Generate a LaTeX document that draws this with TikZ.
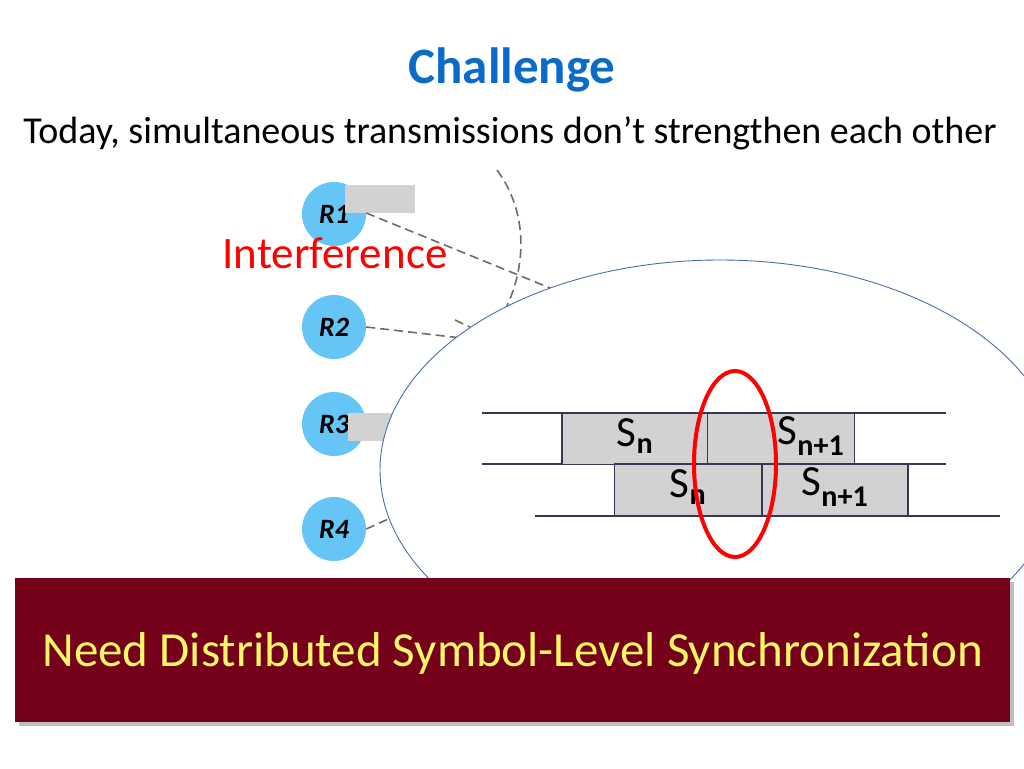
\documentclass[tikz,border=0pt]{standalone}
\usepackage{fontspec}
\setmainfont{Carlito}
\begin{document}
\begin{tikzpicture}[x=1pt,y=-1pt,
  rnode/.style={circle,fill=skyc,minimum size=64pt,inner sep=0pt,font=\fontsize{28}{28}\selectfont\bfseries\itshape},
  dashln/.style={draw=gray!85!black,dash pattern=on 9pt off 5pt,line width=1.6pt},
  sym/.style={draw=lineblk,fill=gray!35,line width=1.8pt},
  tline/.style={draw=lineblk,line width=1.8pt},
  slab/.style={font=\fontsize{43}{43}\selectfont}]
\definecolor{skyc}{HTML}{66C5F7}
\definecolor{boxred}{HTML}{750019}
\definecolor{titleblue}{HTML}{0A6BC9}
\definecolor{lineblk}{HTML}{3A3550}
\definecolor{ellc}{HTML}{4A6FA8}
\useasboundingbox (0,0) rectangle (1024,768);
\node[font=\fontsize{51}{51}\selectfont\bfseries,text=titleblue] (title) at (512,70) {Challenge};
\node[font=\fontsize{38}{38}\selectfont] (sub) at (510,133) {Today, simultaneous transmissions don’t strengthen each other};
\node[rnode] (r1) at (334,214) {R1};
\node[rnode] (r2) at (334,327) {R2};
\node[rnode] (r3) at (334,424) {R3};
\node[rnode] (r4) at (334,529) {R4};
\fill[gray!35] (345,185) rectangle (415,213);
\fill[gray!35] (348,413) rectangle (400,441);
\coordinate (e1) at (560,292);
\coordinate (e2) at (470,339);
\coordinate (e4) at (395,516);
\draw[dashln] (r1.east) ++(0,-1) -- (e1);
\draw[dashln] (r2.east) -- (e2);
\draw[dashln] (455,320) -- (470,327);
\draw[dashln] (r4.east) -- (e4);
\draw[dashln] (497,170) .. controls (530,215) and (525,270) .. (505,310);
\node[font=\fontsize{45}{45}\selectfont,text=red] (intf) at (335,253) {Interference};
\begin{scope}
\clip (0,0) rectangle (1024,768);
\draw[fill=white,draw=ellc,line width=0.9pt] (720,470) ellipse [x radius=340, y radius=210];
\end{scope}
\draw[tline] (482,413) -- (946,413);
\draw[tline] (482,464) -- (946,464);
\draw[tline] (535,516) -- (1000,516);
\node[sym,minimum width=146pt,minimum height=51pt,inner sep=0pt] (s1) at (635,439) {};
\node[sym,minimum width=147pt,minimum height=51pt,inner sep=0pt] (s2) at (781,439) {};
\node[sym,minimum width=147pt,minimum height=52pt,inner sep=0pt] (s3) at (688,490) {};
\node[sym,minimum width=146pt,minimum height=52pt,inner sep=0pt] (s4) at (835,490) {};
\node[slab] at ([xshift=0pt,yshift=3pt]s1.center) {S\textsubscript{\bfseries n}};
\node[slab] at ([xshift=30pt,yshift=3pt]s2.center) {S\textsubscript{\bfseries n+1}};
\node[slab] at ([yshift=3pt]s3.center) {S\textsubscript{\bfseries n}};
\node[slab] at ([yshift=3pt]s4.center) {S\textsubscript{\bfseries n+1}};
\draw[red,line width=4pt] (735,464) ellipse [x radius=41, y radius=93];
\fill[black!25] (19,582) rectangle (1014,726);
\node[fill=boxred,minimum width=995pt,minimum height=144pt,inner sep=0pt,anchor=north west] (need) at (15,578) {};
\node[font=\fontsize{49}{49}\selectfont,text=yellow!60!white] (needtxt) at ([yshift=-3pt]need.center) {Need Distributed Symbol-Level Synchronization};
\end{tikzpicture}
\end{document}
